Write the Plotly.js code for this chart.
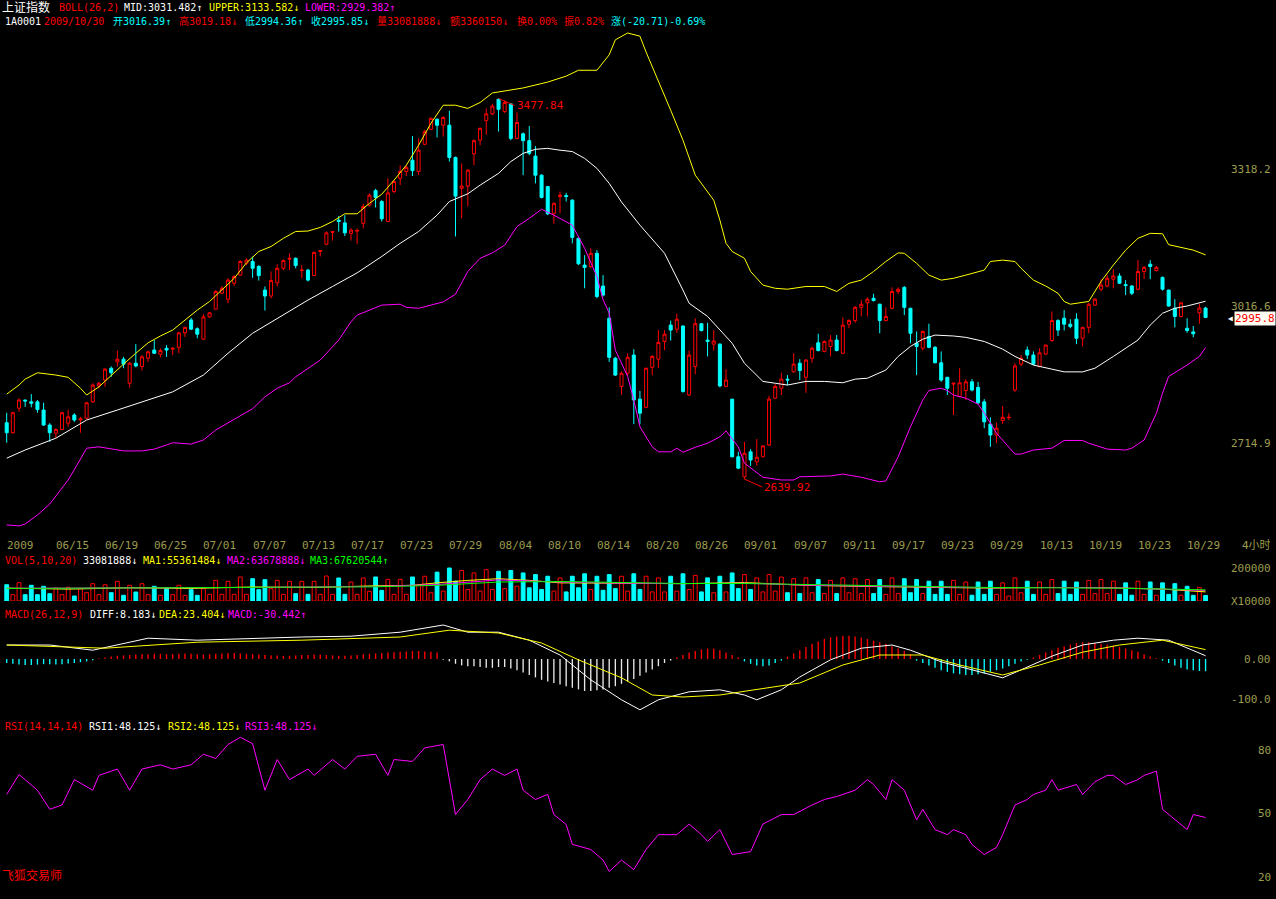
<!DOCTYPE html>
<html><head><meta charset="utf-8">
<script src="https://cdn.plot.ly/plotly-3.0.1.min.js"></script>
<style>html,body{margin:0;padding:0;background:#000;}#chart{width:1276px;height:899px;}</style>
</head><body><div id="chart"></div>
<script>
// ---------------- DATA ----------------
const openP = [2764,2742,2796,2814,2810,2810,2792,2759,2741,2749,
2763,2781,2770,2774,2810,2845,2858,2884,2898,2904,
2851,2895,2888,2906,2924,2915,2928,2926,2930,2962,
2990,2971,2948,2997,3014,3049,3036,3071,3089,3115,
3119,3108,3056,3043,3072,3104,3124,3126,3099,3100,
3088,3141,3157,3183,3210,3204,3181,3186,3203,3243,
3275,3251,3207,3273,3302,3317,3342,3317,3377,3410,
3432,3419,3419,3348,3280,3285,3356,3386,3429,3444,
3476,3449,3466,3390,3400,3385,3351,3309,3284,3225,
3262,3264,3254,3170,3111,3108,3137,3065,2994,2906,
2844,2873,2913,2816,2798,2886,2904,2943,2979,2970,
2977,2825,2888,2982,2946,2937,2937,2844,2816,2689,
2645,2700,2678,2689,2715,2818,2840,2860,2876,2895,
2864,2906,2940,2921,2932,2946,2917,2981,2989,3018,
3028,3038,3025,2989,3016,3053,3062,3016,2939,2928,
2954,2930,2896,2864,2849,2822,2835,2854,2842,2810,
2761,2737,2769,2775,2836,2893,2924,2913,2888,2915,
2945,2989,2994,2981,2992,2950,2974,3023,3058,3065,
3080,3087,3068,3065,3058,3097,3113,3099,3084,3056,
3016,2998,2972,2964,3006,3016.39];
const highP = [2786,2788,2818,2815,2827,2814,2808,2763,2752,2788,
2793,2785,2777,2810,2851,2854,2884,2888,2923,2909,
2898,2937,2913,2923,2946,2928,2935,2930,2964,2975,
2995,2974,3003,3008,3056,3065,3082,3089,3122,3126,
3130,3111,3064,3097,3113,3124,3137,3128,3111,3103,
3141,3144,3185,3186,3219,3221,3192,3192,3246,3269,
3279,3254,3302,3298,3331,3331,3395,3390,3409,3436,
3434,3439,3451,3350,3335,3322,3388,3414,3456,3466,
3477.84,3473,3468,3447,3403,3417,3373,3311,3285,3249,
3273,3270,3256,3171,3133,3148,3144,3089,3018,2909,
2877,2917,2926,2834,2885,2913,2968,2968,2989,3004,
2978,2923,2994,2983,2984,2968,2939,2882,2816,2700,
2722,2706,2728,2715,2823,2849,2874,2869,2917,2904,
2904,2932,2960,2945,2957,2957,2996,2992,3021,3034,
3040,3048,3026,3018,3062,3062,3065,3017,2965,2967,
2982,2933,2921,2865,2852,2884,2860,2860,2854,2816,
2776,2764,2801,2785,2895,2913,2932,2921,2928,2936,
3009,2992,3012,2992,3005,2975,3028,3038,3080,3089,
3102,3093,3078,3067,3122,3109,3122,3109,3086,3057,
3036,3030,2994,2977,3026,3019.18];
const lowP = [2720,2740,2788,2799,2798,2786,2757,2722,2730,2748,
2755,2766,2742,2772,2808,2840,2843,2865,2888,2884,
2841,2886,2879,2898,2915,2908,2909,2913,2917,2953,
2968,2950,2947,2995,3013,3047,3027,3065,3088,3111,
3083,3077,3011,3038,3064,3100,3100,3104,3082,3075,
3087,3130,3155,3165,3185,3175,3165,3157,3192,3240,
3238,3207,3206,3269,3287,3307,3307,3309,3375,3408,
3392,3394,3339,3174,3214,3240,3331,3375,3398,3441,
3405,3446,3386,3388,3309,3353,3291,3258,3221,3202,
3225,3251,3159,3111,3060,3104,3038,3042,2898,2867,
2825,2867,2761,2761,2797,2869,2884,2924,2945,2962,
2830,2823,2871,2965,2910,2923,2842,2842,2688,2662,
2639.92,2669,2669,2688,2713,2816,2825,2847,2874,2858,
2830,2896,2921,2919,2910,2921,2915,2972,2984,2998,
2998,3031,2961,2987,3014,3047,3001,2939,2869,2923,
2928,2895,2854,2825,2781,2820,2814,2833,2805,2752,
2711,2719,2761,2770,2832,2889,2904,2891,2886,2913,
2942,2955,2967,2972,2937,2932,2961,3021,3053,3062,
3060,3070,3045,3045,3056,3080,3080,3097,3055,3020,
2974,2996,2962,2952,2982,2994.36];
const closeP = [2742,2786,2814,2812,2807,2793,2759,2742,2749,2786,
2777,2770,2773,2808,2847,2851,2882,2874,2904,2893,
2895,2889,2909,2920,2917,2923,2924,2928,2962,2974,
2970,2959,2997,3006,3053,3060,3078,3086,3119,3122,
3104,3088,3043,3077,3104,3121,3126,3110,3100,3078,
3139,3143,3182,3185,3207,3182,3188,3187,3240,3265,
3260,3213,3270,3295,3317,3326,3319,3364,3405,3434,
3419,3436,3348,3263,3285,3320,3385,3412,3444,3461,
3454,3469,3390,3425,3385,3357,3309,3260,3224,3247,
3265,3262,3172,3114,3106,3137,3042,3045,2908,2869,
2873,2908,2814,2785,2884,2910,2941,2959,2968,2992,
2833,2913,2982,2967,2943,2944,2845,2858,2689,2664,
2697,2682,2688,2713,2816,2844,2860,2858,2893,2879,
2902,2928,2923,2943,2946,2923,2979,2989,3018,3025,
3036,3033,2989,2998,3053,3058,3018,2961,2932,2965,
2930,2896,2858,2840,2851,2852,2854,2836,2808,2766,
2737,2752,2776,2776,2889,2906,2913,2893,2918,2935,
2989,2968,2981,2976,2950,2974,3025,3036,3067,3082,
3087,3071,3066,3049,3097,3106,3108,3106,3058,3021,
2998,3028,2967,2960,3016.56,2995.85];

// BOLL lines sampled at bar indices
const midIdx = [0,3,8,13,18,23,27,32,36,40,45,49,53,57,61,64,67,70,72,75,77,80,82,84,86,88,90,92,94,96,98,100,103,107,110,111,114,115,118,120,123,125,127,130,133,136,138,140,143,145,147,149,151,154,156,159,162,164,167,170,172,175,177,180,182,184,186,188,190,192,195];
const midVal = [2686,2704,2730,2770,2792,2814,2832,2869,2917,2961,3001,3034,3064,3094,3130,3159,3185,3221,3251,3268,3287,3313,3339,3357,3366,3368,3364,3361,3346,3324,3291,3250,3199,3137,3056,3027,2998,2983,2939,2895,2855,2851,2847,2855,2855,2852,2860,2862,2880,2910,2932,2948,2957,2955,2952,2943,2926,2910,2891,2882,2876,2876,2884,2910,2928,2946,2979,3005,3016,3021,3031.482];
const upIdx = [0,2,3,5,8,10,12,13,15,17,19,21,23,25,27,29,31,33,35,37,39,41,43,45,47,49,51,53,55,57,59,61,63,65,67,69,71,73,75,77,79,80,84,88,91,93,96,98,99,101,103,104,106,108,110,112,115,116,117,118,120,121,123,125,127,130,133,134,135,137,139,141,143,145,146,148,150,152,154,156,159,160,162,164,165,167,169,171,172,173,176,178,180,182,184,186,188,189,191,193,195];
const upVal = [2827,2847,2860,2874,2869,2864,2840,2825,2843,2869,2893,2917,2940,2955,2968,2990,3012,3031,3056,3082,3116,3141,3152,3170,3185,3186,3194,3207,3224,3224,3247,3267,3298,3331,3375,3423,3463,3463,3456,3469,3490,3492,3501,3514,3527,3540,3540,3574,3607,3622,3615,3580,3518,3452,3386,3309,3254,3210,3159,3141,3126,3097,3067,3060,3058,3064,3064,3058,3053,3071,3078,3097,3119,3138,3137,3115,3089,3078,3082,3089,3100,3119,3122,3119,3104,3078,3065,3049,3031,3025,3031,3075,3111,3144,3170,3181,3180,3156,3150,3144,3133.582];
const lowIdx = [0,2,3,5,7,10,12,13,15,17,19,22,24,26,27,30,32,34,36,38,40,42,44,46,47,51,54,56,57,61,64,65,67,69,71,73,75,77,79,81,83,85,87,89,92,94,96,97,98,99,101,102,103,105,106,108,109,110,112,114,116,117,119,120,122,123,126,128,129,134,136,139,142,143,145,147,149,150,152,153,154,156,158,159,161,163,164,165,167,170,172,175,176,179,182,183,185,187,188,189,192,194,195];
const lowVal = [2539,2537,2541,2561,2585,2638,2684,2708,2711,2706,2702,2702,2706,2715,2720,2717,2726,2748,2764,2780,2795,2821,2840,2852,2865,2902,2946,2986,3001,3023,3025,3018,3016,3023,3030,3047,3097,3126,3138,3155,3196,3214,3234,3221,3199,3148,3086,3035,3005,2924,2866,2814,2755,2711,2700,2700,2708,2699,2710,2719,2733,2746,2711,2675,2653,2644,2638,2638,2645,2647,2651,2644,2634,2636,2689,2755,2814,2835,2840,2835,2825,2818,2805,2785,2741,2711,2695,2695,2704,2708,2725,2725,2719,2706,2704,2708,2726,2785,2829,2866,2891,2910,2929.382];

// Volume (same unit as the 200000 axis label)
const vol = [98800,38200,110900,38200,95100,38200,89100,44200,78800,38200,
83000,30300,74500,50300,104800,38200,98800,50300,119400,34500,
95100,54500,104800,38200,89100,34500,74500,38200,95100,34500,
68700,34300,74700,40400,125200,40400,119200,40400,145400,40400,
135300,68700,129300,74700,125200,40400,119200,44400,119200,40400,
119200,40400,151500,40400,139400,40400,115100,40400,139400,58600,
145400,64600,131300,40400,131300,40400,145400,95000,150000,50000,
175000,60000,200000,120000,185000,70000,170000,60000,190000,70000,
180000,75000,185000,90000,170000,80000,160000,70000,150000,60000,
140000,55000,150000,80000,165000,70000,150000,65000,160000,75000,
150000,60000,165000,70000,150000,55000,140000,55000,150000,60000,
165000,70000,155000,55000,140000,50000,150000,55000,170000,75000,
160000,70000,140000,55000,160000,60000,145000,50000,135000,45000,
140000,50000,130000,45000,125000,45000,140000,50000,135000,45000,
130000,45000,130000,40000,140000,45000,135000,50000,130000,45000,
120000,40000,120000,40000,125000,40000,115000,35000,115000,40000,
120000,40000,110000,30000,140000,50000,120000,40000,115000,40000,
130000,45000,120000,40000,115000,40000,125000,45000,130000,45000,
120000,40000,110000,35000,120000,40000,115000,35000,110000,40000,
105000,35000,89000,34500,81000,33082];
const ma1Idx = [0,10,20,30,40,50,60,66,70,75,80,85,90,100,110,120,130,140,150,160,170,180,188,195];
const ma1Val = [78000,72000,80000,76000,85000,82000,92000,95000,110000,125000,135000,125000,110000,108000,105000,112000,95000,88000,85000,78000,82000,80000,72000,55361];
const ma2Idx = [0,20,40,60,70,80,90,100,110,120,130,140,150,160,170,180,195];
const ma2Val = [77000,78000,82000,88000,100000,128000,115000,108000,105000,108000,96000,90000,85000,80000,82000,80000,63679];
const ma3Idx = [0,20,40,60,70,80,90,100,110,120,130,140,150,160,170,180,195];
const ma3Val = [76000,78000,82000,86000,95000,115000,118000,110000,106000,106000,100000,92000,88000,82000,80000,78000,67621];

// MACD
const diffIdx = [0,7,14,23,31,40,48,56,64,71,75,80,85,90,95,100,103,106,111,116,120,122,126,129,134,139,144,147,152,157,162,165,170,175,180,184,189,195];
const diffVal = [35,35,22,52,47,52,55,57,67,85,67,67,47,10,-52,-102,-127,-102,-82,-77,-90,-102,-77,-45,-2,27,35,22,-7,-27,-47,-27,7,35,47,52,47,8.183];
const deaIdx = [0,16,31,48,64,72,80,87,93,100,105,110,116,122,129,136,142,149,155,162,168,175,181,188,195];
const deaVal = [35,27,42,47,55,72,65,40,-2,-47,-90,-95,-90,-77,-60,-15,10,10,-15,-40,-15,17,35,47,23.404];
const macdHist = [-10,-12,-14,-15,-15,-14,-13,-13,-14,-13,-11,-10,-8,-6,-3,
2,4,6,8,9,10,11,12,12,13,13,12,12,13,14,13,12,11,12,13,14,15,15,14,13,12,11,10,9,9,8,8,9,10,10,11,11,10,9,8,8,9,10,12,13,14,15,16,17,18,19,20,20,19,18,16,
-2,-6,-12,-16,-18,-18,-20,-22,-22,-20,-20,-24,-28,-34,-40,-46,-52,-56,-60,-64,-68,-72,-76,-80,-80,-78,-76,
-72,-68,-62,-56,-50,-42,-34,-26,-18,-10,-4,
4,10,16,20,24,26,26,22,16,10,4,
-6,-12,-16,-18,-16,-10,-4,
6,14,22,30,38,44,50,54,56,58,58,56,54,50,46,42,38,32,26,20,12,
-4,-10,-16,-22,-28,-32,-36,-38,-40,-40,-38,-36,-32,-28,-24,-18,-12,-6,-2,
4,10,16,22,28,32,36,40,42,42,40,38,36,34,30,26,22,18,12,6,2,
-4,-10,-16,-22,-26,-28,-30,-30.442];
// bars drawn in white in the reference (first deep negative stretch)
const macdWhiteFrom = 71, macdWhiteTo = 108;

// RSI
const rsiIdx = [0,2,5,7,9,11,14,15,18,20,22,25,27,30,32,34,36,38,40,42,44,46,49,50,53,55,57,60,62,63,66,68,71,73,75,77,79,81,83,84,86,88,89,91,92,95,97,98,100,102,104,106,109,111,113,114,116,118,121,123,126,128,131,133,135,138,140,141,143,144,146,148,149,151,153,154,156,157,159,161,162,164,166,167,169,170,171,174,175,177,179,180,182,184,185,187,188,190,192,193,195];
const rsiVal = [59,68.4,61,52,54,66,61,68,71,61,71,73,71,73,78,76,82.6,86,83,61,75.5,66,71,68,75.5,71,77,78,68,75.5,74.6,81,82.6,49.5,56.6,66,71,68,71,61,56.6,59,49.5,44.8,35.4,33,28,22.6,28,23.5,33,40,40,45,40,36.8,42.4,30.6,32,45,49.5,49.5,54,56.6,58,61,66,63.7,56.6,66,61,47,52,42.4,40,42.4,40,35.4,30.6,34,40,54,56.6,59,61,66,61,63.7,59,65,68,68,63.7,66,68,70,52,47,42.4,49.5,48.125];

// Axis labels
const dateIdx = [0,8,16,24,32,40,48,56,64,72,80,88,96,104,112,120,128,136,144,152,160,168,176,184,192];
const dateText = ['2009','06/15','06/19','06/25','07/01','07/07','07/13','07/17','07/23','07/29','08/04','08/10','08/14','08/20','08/26','09/01','09/07','09/11','09/17','09/23','09/29','10/13','10/19','10/23','10/29'];
const priceTicks = [3318.2, 3016.6, 2714.9];
const volTicks = [200000];
const macdTicks = [0, -100];
const macdTickText = ['0.00', '-100.0'];
const rsiTicks = [100, 80, 50, 20];

// ---------------- STYLE / LAYOUT ----------------
const W = 1276, H = 899;
const PX = x => x / W, PY = y => 1 - y / H;
const RED = '#ff0000', CYAN = '#00ffff', YEL = '#ffff00', MAG = '#ff00ff', WHT = '#ffffff', GRN = '#00ff00';
const AXC = '#9c9c4e';
const FONT = 'DejaVu Sans Mono, Noto Sans CJK SC, monospace';
const FS = 10;
const N = closeP.length;
const idx = Array.from({length: N}, (_, i) => i);

const traces = [];
traces.push({type: 'candlestick', x: idx, open: openP, high: highP, low: lowP, close: closeP,
  xaxis: 'x', yaxis: 'y', whiskerwidth: 0, hoverinfo: 'skip',
  increasing: {line: {color: RED, width: 1}, fillcolor: '#000000'},
  decreasing: {line: {color: CYAN, width: 1}, fillcolor: CYAN}});
const line = (x, y, color, ya) => ({type: 'scatter', mode: 'lines', x: x, y: y, xaxis: 'x', yaxis: ya,
  line: {color: color, width: 1}, hoverinfo: 'skip'});
traces.push(line(midIdx, midVal, WHT, 'y'));
traces.push(line(upIdx, upVal, YEL, 'y'));
traces.push(line(lowIdx, lowVal, MAG, 'y'));

const upI = idx.filter(i => closeP[i] >= openP[i]);
const dnI = idx.filter(i => closeP[i] < openP[i]);
traces.push({type: 'bar', x: upI, y: upI.map(i => vol[i]), xaxis: 'x', yaxis: 'y2', width: 0.62,
  marker: {color: '#000000', line: {color: RED, width: 1}}, hoverinfo: 'skip'});
traces.push({type: 'bar', x: dnI, y: dnI.map(i => vol[i]), xaxis: 'x', yaxis: 'y2', width: 0.62,
  marker: {color: CYAN, line: {color: CYAN, width: 1}}, hoverinfo: 'skip'});
traces.push(line(ma1Idx, ma1Val, YEL, 'y2'));
traces.push(line(ma2Idx, ma2Val, MAG, 'y2'));
traces.push(line(ma3Idx, ma3Val, GRN, 'y2'));

traces.push({type: 'bar', x: idx, y: macdHist, xaxis: 'x', yaxis: 'y3', width: 0.22,
  marker: {color: macdHist.map((v, i) => (i >= macdWhiteFrom && i <= macdWhiteTo) ? '#e8e8e8' : (v >= 0 ? RED : CYAN)), line: {width: 0}},
  hoverinfo: 'skip'});
traces.push(line(diffIdx, diffVal, WHT, 'y3'));
traces.push(line(deaIdx, deaVal, YEL, 'y3'));
traces.push(line(rsiIdx, rsiVal, MAG, 'y4'));

// annotations
const ann = [];
const txt = (text, color, x, y, size) => ({text: text, xref: 'paper', yref: 'paper', x: PX(x), y: PY(y),
  xanchor: 'left', yanchor: 'middle', showarrow: false, font: {family: FONT, size: size || FS, color: color}});
[['上证指数', WHT, 0, 12], ['BOLL(26,2)', RED, 57], ['MID:3031.482↑', WHT, 122], ['UPPER:3133.582↓', YEL, 207], ['LOWER:2929.382↑', MAG, 303]]
  .forEach(s => ann.push(txt(s[0], s[1], s[2], 7, s[3])));
[['1A0001', WHT, 3], ['2009/10/30', RED, 42], ['开3016.39↑', CYAN, 111], ['高3019.18↓', RED, 177], ['低2994.36↑', CYAN, 243],
 ['收2995.85↓', CYAN, 309], ['量33081888↓', RED, 375], ['额3360150↓', RED, 448], ['换0.00%', RED, 515], ['振0.82%', RED, 562], ['涨(-20.71)-0.69%', CYAN, 609]]
  .forEach(s => ann.push(txt(s[0], s[1], s[2], 21)));
[['VOL(5,10,20)', RED, 3], ['33081888↓', WHT, 81], ['MA1:55361484↓', YEL, 141], ['MA2:63678888↓', MAG, 225], ['MA3:67620544↑', GRN, 308]]
  .forEach(s => ann.push(txt(s[0], s[1], s[2], 560)));
[['MACD(26,12,9)', RED, 3], ['DIFF:8.183↓', WHT, 88], ['DEA:23.404↓', YEL, 157], ['MACD:-30.442↑', MAG, 226]]
  .forEach(s => ann.push(txt(s[0], s[1], s[2], 614)));
[['RSI(14,14,14)', RED, 3], ['RSI1:48.125↓', WHT, 87], ['RSI2:48.125↓', YEL, 166], ['RSI3:48.125↓', MAG, 243]]
  .forEach(s => ann.push(txt(s[0], s[1], s[2], 726)));
ann.push(txt('飞狐交易师', RED, 0, 875, 12));

const rlab = (text, yref, y, ys) => ({text: text, xref: 'paper', yref: yref, x: PX(1273), y: y, xanchor: 'right', yanchor: 'middle',
  yshift: ys || 0, showarrow: false, font: {family: FONT, size: 11, color: AXC}});
priceTicks.forEach(v => ann.push(rlab(v.toFixed(1), 'y', v, 2)));
volTicks.forEach(v => ann.push(rlab(String(v), 'y2', v)));
ann.push(rlab('X10000', 'paper', PY(601)));
macdTicks.forEach((v, k) => ann.push(rlab(macdTickText[k], 'y3', v)));
rsiTicks.forEach(v => ann.push(rlab(String(v), 'y4', v)));
dateIdx.forEach((d, k) => ann.push({text: dateText[k], xref: 'x', yref: 'paper', x: d, y: PY(545), xanchor: 'left', yanchor: 'middle',
  xshift: -2, showarrow: false, font: {family: FONT, size: 11, color: AXC}}));
ann.push(rlab('4小时', 'paper', PY(545)));
const lastClose = closeP[N - 1];
ann.push({text: lastClose.toFixed(1), xref: 'paper', yref: 'y', x: PX(1234), y: lastClose, xanchor: 'left', yanchor: 'middle',
  yshift: -1, showarrow: false, bgcolor: '#fffff4', borderpad: 0, font: {family: FONT, size: 11, color: RED}});
ann.push({text: '◀', xref: 'paper', yref: 'y', x: PX(1235), y: lastClose, xanchor: 'right', yanchor: 'middle',
  yshift: -1, showarrow: false, font: {family: FONT, size: 8, color: '#ffffff'}});
const hiI = highP.indexOf(Math.max(...highP)), loI = lowP.indexOf(Math.min(...lowP));
ann.push({text: highP[hiI].toFixed(2), xref: 'x', yref: 'y', x: hiI, y: highP[hiI], showarrow: true, arrowhead: 0, arrowwidth: 1,
  arrowcolor: RED, ax: 16, ay: 7, xanchor: 'left', yanchor: 'middle', font: {family: FONT, size: 11, color: RED}});
ann.push({text: lowP[loI].toFixed(2), xref: 'x', yref: 'y', x: loI, y: lowP[loI], showarrow: true, arrowhead: 0, arrowwidth: 1,
  arrowcolor: RED, ax: 18, ay: 8, xanchor: 'left', yanchor: 'middle', font: {family: FONT, size: 11, color: RED}});

const hid = {visible: false, showgrid: false, zeroline: false, fixedrange: true};
const layout = {
  width: W, height: H, margin: {l: 0, r: 0, t: 0, b: 0}, paper_bgcolor: '#000000', plot_bgcolor: '#000000',
  showlegend: false, dragmode: false, barmode: 'overlay',
  xaxis: Object.assign({domain: [0, 1232 / W], range: [-1.09, 199.3], rangeslider: {visible: false}}, hid),
  yaxis: Object.assign({domain: [PY(530), PY(28)], range: [2527.9, 3633], anchor: 'x'}, hid),
  yaxis2: Object.assign({domain: [PY(601), PY(560)], range: [0, 248485], anchor: 'x'}, hid),
  yaxis3: Object.assign({domain: [PY(712), PY(612)], range: [-132.5, 117.5], anchor: 'x'}, hid),
  yaxis4: Object.assign({domain: [PY(890), PY(720)], range: [13.86, 94.17], anchor: 'x'}, hid),
  annotations: ann
};
Plotly.newPlot('chart', traces, layout, {staticPlot: true, displayModeBar: false});
</script>
</body></html>
